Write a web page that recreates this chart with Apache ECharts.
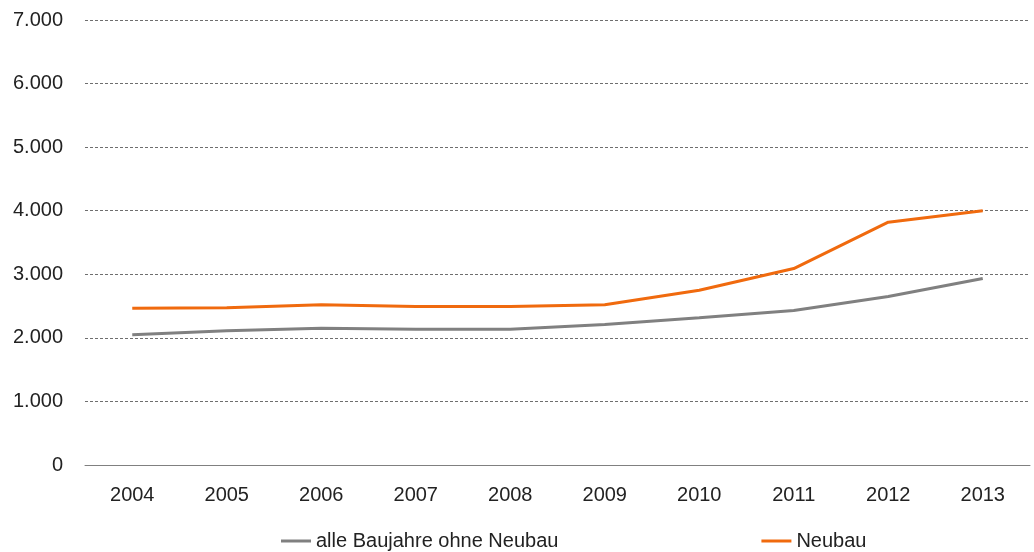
<!DOCTYPE html>
<html>
<head>
<meta charset="utf-8">
<script src="https://cdn.jsdelivr.net/npm/echarts@6/dist/echarts.min.js"></script>
<style>
  html, body { margin: 0; padding: 0; background: #fff; }
  #main { width: 1034px; height: 552px; }
</style>
</head>
<body>
<div id="main"></div>
<script>
const years = ['2004', '2005', '2006', '2007', '2008', '2009', '2010', '2011', '2012', '2013'];
const bestand = [2050, 2110, 2150, 2135, 2135, 2210, 2315, 2430, 2650, 2935];
const neubau = [2465, 2475, 2520, 2495, 2495, 2520, 2750, 3090, 3820, 4000];
const yTicks = { min: 0, max: 7000, step: 1000 };

const font = 'Liberation Sans, Arial, sans-serif';
let chartDom = document.getElementById('main');
let myChart = echarts.init(chartDom);

let option = {
  animation: false,
  grid: { left: 85, right: 4, top: 20, bottom: 87, containLabel: false },
  legend: {
    top: 526,
    left: 276,
    itemWidth: 30,
    itemHeight: 3,
    itemGap: 203,
    icon: 'rect',
    textStyle: { fontFamily: font, fontSize: 20, color: '#222' },
    data: ['alle Baujahre ohne Neubau', 'Neubau']
  },
  xAxis: {
    type: 'category',
    data: years,
    boundaryGap: true,
    axisLine: { lineStyle: { color: '#808080', width: 1 } },
    axisTick: { length: 8, lineStyle: { color: '#808080' } },
    axisLabel: { fontFamily: font, fontSize: 20, color: '#222', margin: 20 }
  },
  yAxis: {
    type: 'value',
    min: yTicks.min,
    max: yTicks.max,
    interval: yTicks.step,
    axisLine: { show: false },
    axisTick: { show: false },
    axisLabel: {
      fontFamily: font, fontSize: 20, color: '#222', margin: 22,
      formatter: v => v.toLocaleString('de-DE')
    },
    splitLine: { lineStyle: { color: '#6e6e6e', type: [3, 2], width: 1 } }
  },
  series: [
    {
      name: 'alle Baujahre ohne Neubau',
      type: 'line',
      data: bestand,
      symbol: 'none',
      itemStyle: { color: '#808080' },
      lineStyle: { color: '#808080', width: 3 }
    },
    {
      name: 'Neubau',
      type: 'line',
      data: neubau,
      symbol: 'none',
      itemStyle: { color: '#F06A0E' },
      lineStyle: { color: '#F06A0E', width: 3 }
    }
  ]
};

myChart.setOption(option);
</script>
</body>
</html>
